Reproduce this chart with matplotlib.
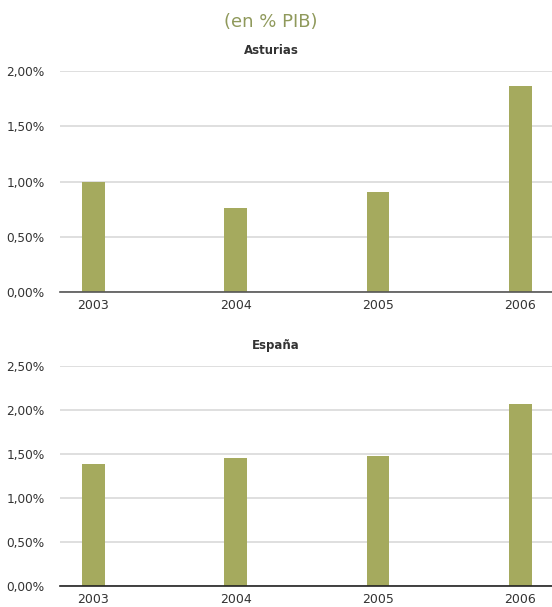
import numpy as np
import matplotlib
matplotlib.use("Agg")
import matplotlib.pyplot as plt
from matplotlib.ticker import FuncFormatter

# ── Data ──────────────────────────────────────────────────────────────────────
years = ['2003', '2004', '2005', '2006']
asturias = [1.00, 0.76, 0.905, 1.865]
espana = [1.39, 1.45, 1.48, 2.065]
asturias_ticks = [0, 0.5, 1.0, 1.5, 2.0]
espana_ticks = [0, 0.5, 1.0, 1.5, 2.0, 2.5]

# ── Style ─────────────────────────────────────────────────────────────────────
plt.rcParams.update({'font.family': 'DejaVu Sans', 'font.size': 9})
BAR = '#a5aa5e'
OLIVE = '#8f995b'
GRID = '#d9d9d9'
TXT = '#333333'

fig = plt.figure(figsize=(5.52, 6.07), dpi=100)
W, H = 552, 607


def panel(top, bottom, values, ticks, base_color):
    ax = fig.add_axes([60 / W, 1 - bottom / H, 1 - 60 / W, (bottom - top) / H])
    x = np.arange(len(years))
    ax.bar(x, values, width=0.16, color=BAR, zorder=3)
    ax.set_xlim(-0.235, 3.222)
    ax.set_ylim(0, ticks[-1])
    ax.set_yticks(ticks)
    ax.yaxis.set_major_formatter(
        FuncFormatter(lambda v, _: f'{v:.2f}%'.replace('.', ',')))
    ax.set_xticks(x)
    ax.set_xticklabels(years)
    ax.grid(axis='y', color=GRID, lw=1.2, zorder=0)
    for s in ['top', 'right', 'left']:
        ax.spines[s].set_visible(False)
    ax.spines['bottom'].set_color(base_color)
    ax.spines['bottom'].set_linewidth(1.2)
    ax.spines['bottom'].set_zorder(4)
    ax.tick_params(axis='both', length=0, colors=TXT, labelsize=9)
    ax.tick_params(axis='y', labelsize=8.7, pad=11)
    ax.tick_params(axis='x', pad=5)
    return ax


ax1 = panel(71, 292, asturias, asturias_ticks, '#555555')
ax2 = panel(365.7, 586, espana, espana_ticks, '#222222')

fig.text(271 / W, 1 - 22 / H, '(en % PIB)', color=OLIVE, fontsize=13,
         ha='center', va='center')
fig.text(271 / W, 1 - 50 / H, 'Asturias', color=TXT, fontsize=8.5,
         fontweight='bold', ha='center', va='center')
fig.text(276 / W, 1 - 345 / H, 'España', color=TXT, fontsize=8.5,
         fontweight='bold', ha='center', va='center')

fig.savefig('out.png', dpi=100)
plt.close()
